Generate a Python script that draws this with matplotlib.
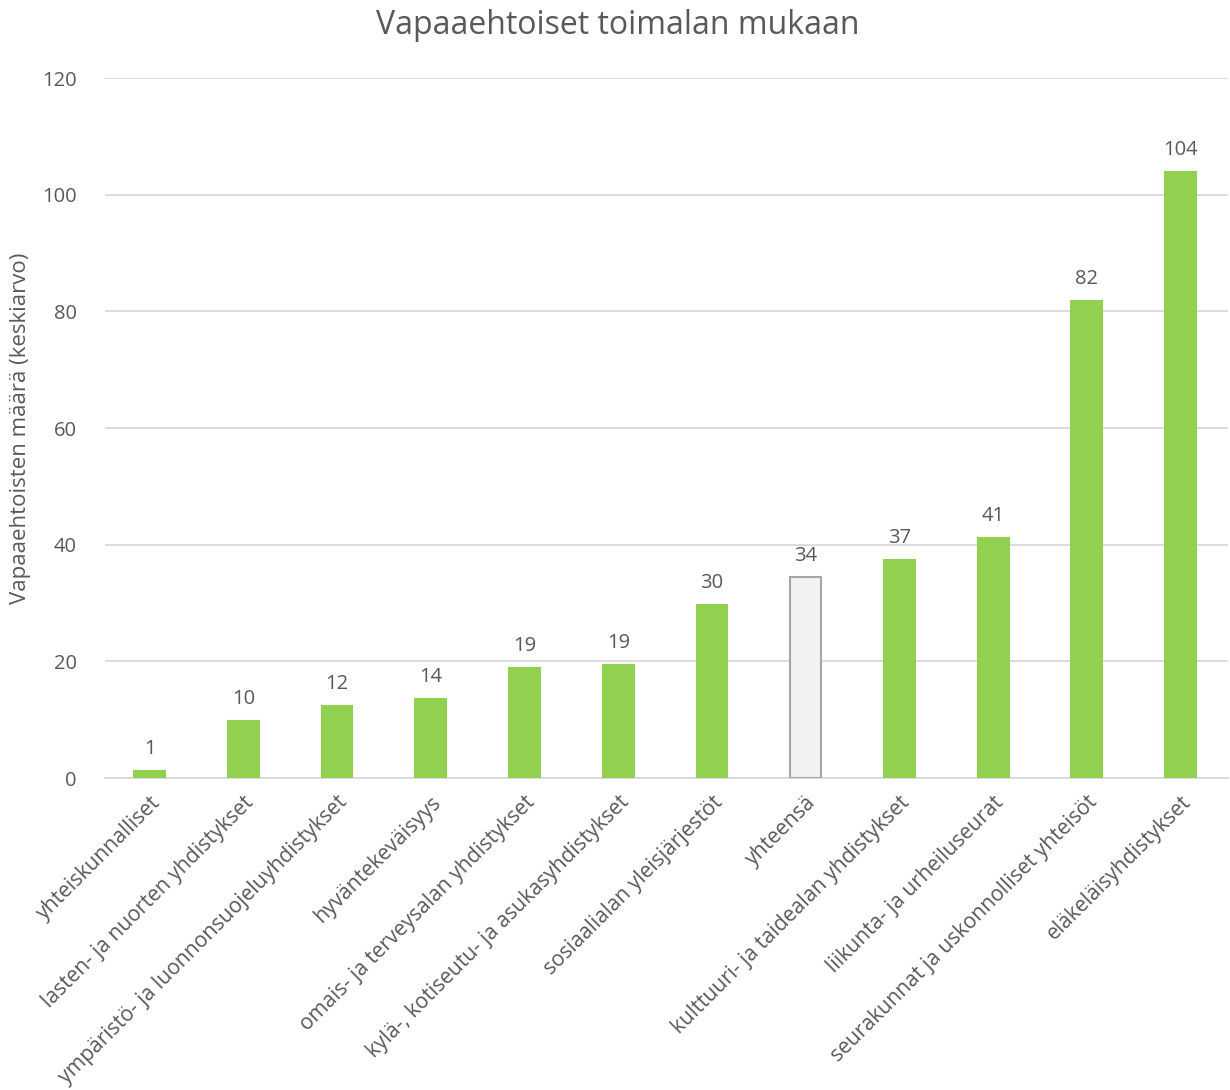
import numpy as np
import matplotlib
matplotlib.use("Agg")
import matplotlib.pyplot as plt

plt.rcParams['font.family'] = ['Open Sans', 'DejaVu Sans']

categories = ['yhteiskunnalliset', 'lasten- ja nuorten yhdistykset',
              'ympäristö- ja luonnonsuojeluyhdistykset', 'hyväntekeväisyys',
              'omais- ja terveysalan yhdistykset', 'kylä-, kotiseutu- ja asukasyhdistykset',
              'sosiaalialan yleisjärjestöt', 'yhteensä',
              'kulttuuri- ja taidealan yhdistykset', 'liikunta- ja urheiluseurat',
              'seurakunnat ja uskonnolliset yhteisöt', 'eläkeläisyhdistykset']
values = [1.2, 9.8, 12.4, 13.6, 18.9, 19.4, 29.7, 34.4, 37.4, 41.1, 81.8, 103.9]
total_name = 'yhteensä'

text_col = '#595959'
green = '#92D050'

fig = plt.figure(figsize=(12.3, 10.9), dpi=100)
ax = fig.add_axes([0.085, 0.2862, 0.913, 0.6422])

x = np.arange(len(categories))
colors = ['#F2F2F2' if c == total_name else green for c in categories]
edges = ['#A6A6A6' if c == total_name else green for c in categories]
bars = ax.bar(x, values, 0.33, color=colors, edgecolor=edges, linewidth=1.5, zorder=3)

for rect, v in zip(bars, values):
    ax.annotate('{:.0f}'.format(v),
                xy=(rect.get_x() + rect.get_width() / 2, rect.get_height()),
                xytext=(0, 8.5), textcoords="offset points",
                ha='center', va='bottom', fontsize=14.5, color=text_col)

ax.set_ylim(0, 120)
ax.set_xlim(-0.48, 11.5)
ax.set_yticks(range(0, 121, 20))
ax.yaxis.grid(True, color='#D9D9D9', linewidth=1.3, zorder=0)
for s in ['top', 'right', 'left']:
    ax.spines[s].set_visible(False)
ax.spines['bottom'].set_color('#D9D9D9')
ax.spines['bottom'].set_linewidth(1.3)
ax.tick_params(axis='both', length=0, labelsize=14.5, labelcolor=text_col)
ax.tick_params(axis='y', pad=20)
ax.set_xticks(x)
ax.set_xticklabels(categories, rotation=45, ha='right', rotation_mode='anchor', fontsize=15.2)
ax.tick_params(axis='x', pad=10)

ax.set_ylabel('Vapaaehtoisten määrä (keskiarvo)', fontsize=16, color=text_col, labelpad=8)
fig.suptitle('Vapaaehtoiset toimalan mukaan', fontsize=23, color=text_col, y=0.992, x=0.502)

fig.savefig('out.png', dpi=100)
